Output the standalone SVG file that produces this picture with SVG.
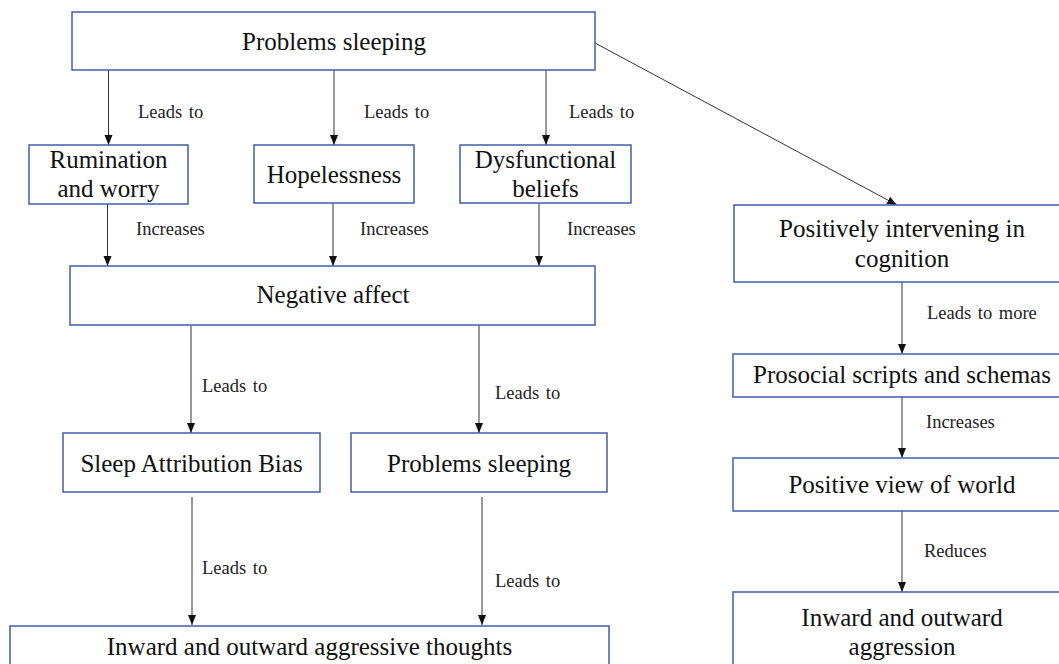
<svg xmlns="http://www.w3.org/2000/svg" width="1059" height="664" viewBox="0 0 1059 664">
<style>
.box{fill:#fff;stroke:#3f5ea8;stroke-width:1.5}
.t{font-family:'Liberation Serif','Times New Roman',serif;font-size:25px;fill:#111;text-anchor:middle}
.l{font-family:'Liberation Serif','Times New Roman',serif;font-size:18.5px;fill:#222;word-spacing:2px}
.c{stroke:#333;stroke-width:1;fill:none;marker-end:url(#ah)}
</style>
<defs>
<marker id="ah" markerUnits="userSpaceOnUse" markerWidth="10" markerHeight="10" viewBox="0 0 10 10" refX="10" refY="5" orient="auto">
<path d="M0,1 L10,5 L0,9 z" fill="#111"/>
</marker>
</defs>
<rect width="1059" height="664" fill="#fff"/>
<g id="connectors">
<line class="c" x1="108.5" y1="70" x2="108.5" y2="145"/>
<line class="c" x1="334" y1="70" x2="334" y2="145"/>
<line class="c" x1="546" y1="70" x2="546" y2="145"/>
<line class="c" x1="107.5" y1="204" x2="107.5" y2="266"/>
<line class="c" x1="333" y1="203" x2="333" y2="266"/>
<line class="c" x1="539" y1="203" x2="539" y2="266"/>
<line class="c" x1="191" y1="326" x2="191" y2="433"/>
<line class="c" x1="479" y1="325" x2="479" y2="433"/>
<line class="c" x1="192" y1="497" x2="192" y2="625"/>
<line class="c" x1="482" y1="497" x2="482" y2="625"/>
<line class="c" x1="595" y1="43" x2="897" y2="205"/>
<line class="c" x1="902" y1="282" x2="902" y2="354"/>
<line class="c" x1="902" y1="397" x2="902" y2="458"/>
<line class="c" x1="902" y1="511" x2="902" y2="592"/>
<text class="l" x="138" y="118">Leads to</text>
<text class="l" x="364" y="118">Leads to</text>
<text class="l" x="569" y="118">Leads to</text>
<text class="l" x="136" y="235">Increases</text>
<text class="l" x="360" y="235">Increases</text>
<text class="l" x="567" y="235">Increases</text>
<text class="l" x="202" y="392">Leads to</text>
<text class="l" x="495" y="399">Leads to</text>
<text class="l" x="202" y="574">Leads to</text>
<text class="l" x="495" y="587">Leads to</text>
<text class="l" x="927" y="319">Leads to more</text>
<text class="l" x="926" y="428">Increases</text>
<text class="l" x="924" y="557">Reduces</text>
</g>
<g id="problems-sleeping-top"><rect class="box" x="72" y="12" width="523" height="58"/><text class="t" x="334" y="50">Problems sleeping</text></g>
<g id="rumination"><rect class="box" x="29" y="145" width="159" height="59"/><text class="t" x="108.5" y="168">Rumination</text><text class="t" x="108.5" y="197">and worry</text></g>
<g id="hopelessness"><rect class="box" x="254" y="145" width="160" height="58"/><text class="t" x="334" y="183">Hopelessness</text></g>
<g id="dysfunctional"><rect class="box" x="460" y="145" width="171" height="58"/><text class="t" x="545.5" y="168">Dysfunctional</text><text class="t" x="545.5" y="197">beliefs</text></g>
<g id="negative-affect"><rect class="box" x="70" y="266" width="525" height="59"/><text class="t" x="333" y="303">Negative affect</text></g>
<g id="sleep-attribution"><rect class="box" x="63" y="433" width="257" height="59"/><text class="t" x="191.5" y="472">Sleep Attribution Bias</text></g>
<g id="problems-sleeping-2"><rect class="box" x="351" y="433" width="256" height="59"/><text class="t" x="479" y="472">Problems sleeping</text></g>
<g id="aggressive-thoughts"><rect class="box" x="10" y="626" width="599" height="60"/><text class="t" x="309.5" y="655">Inward and outward aggressive thoughts</text></g>
<g id="positively-intervening"><rect class="box" x="734" y="205" width="327" height="77"/><text class="t" x="902" y="237">Positively intervening in</text><text class="t" x="902" y="267">cognition</text></g>
<g id="prosocial"><rect class="box" x="733" y="354" width="328" height="43"/><text class="t" x="902" y="383">Prosocial scripts and schemas</text></g>
<g id="positive-view"><rect class="box" x="733" y="458" width="328" height="53"/><text class="t" x="902" y="493">Positive view of world</text></g>
<g id="aggression"><rect class="box" x="733" y="592" width="328" height="90"/><text class="t" x="902" y="626">Inward and outward</text><text class="t" x="902" y="655">aggression</text></g>
</svg>
